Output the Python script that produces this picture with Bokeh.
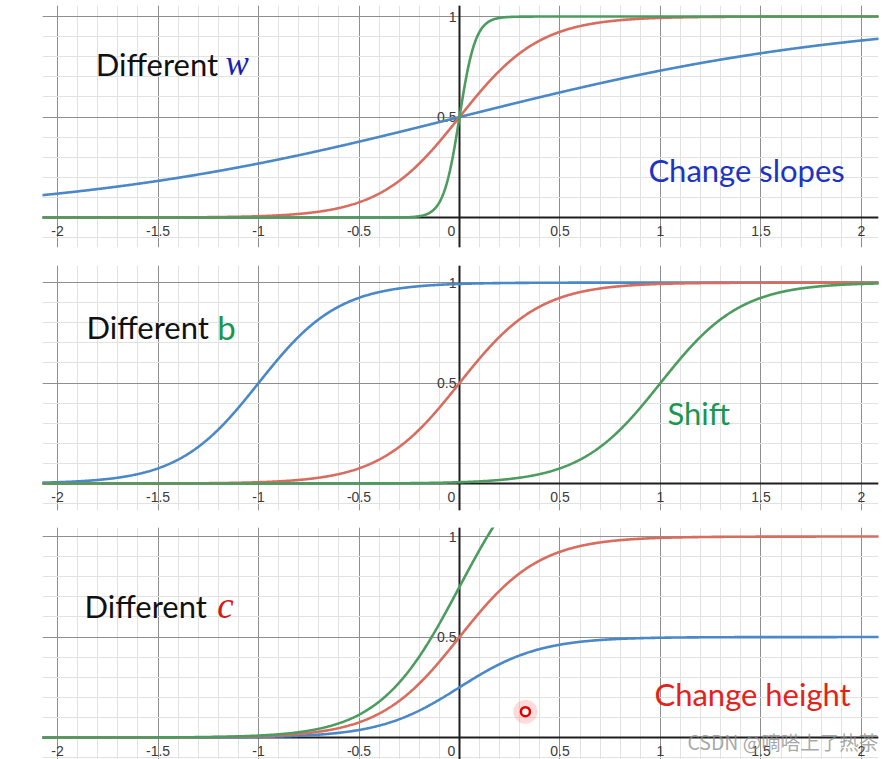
import numpy as np
from bokeh.plotting import figure
from bokeh.layouts import column
from bokeh.models import Range1d, FixedTicker, Span, Grid
from bokeh.core.properties import value
from bokeh.embed import file_html
from bokeh.resources import INLINE

# ---- data ----
# panel 1: sigmoid(w * x) for different slopes w
w_values = [1, 5, 25]
# panel 2: sigmoid(b + 5 x) for different offsets b (centres at -1, 0, 1)
b_values = [5, 0, -5]
b_slope = 5
# panel 3: c * sigmoid(5 x) for different heights c
c_values = [0.5, 1, 1.5]
c_slope = 5

curve_colors = ["#4a88c8", "#d86d5f", "#4c9c60"]  # blue, red, green

x_ticks = [-2, -1.5, -1, -0.5, 0, 0.5, 1, 1.5, 2]
x_tick_labels = ["-2", "-1.5", "-1", "-0.5", "0", "0.5", "1", "1.5", "2"]
y_ticks = [0.5, 1]
y_tick_labels = ["0.5", "1"]

major_grid = [k * 0.5 for k in range(-6, 7)]
minor_grid = [round(k * 0.1, 1) for k in range(-30, 31)]

XMIN, XMAX = -2.075, 2.085
xs = np.linspace(-2.3, 2.3, 1200)


def sigmoid(z):
    return 1.0 / (1.0 + np.exp(-z))


def make_fig(height, ymin, ymax, top, bottom):
    p = figure(width=895, height=height,
               x_range=Range1d(XMIN, XMAX), y_range=Range1d(ymin, ymax),
               output_backend="svg", toolbar_location=None,
               x_axis_location=None, y_axis_location=None,
               min_border_left=42, min_border_right=17,
               min_border_top=top, min_border_bottom=bottom)
    p.outline_line_color = None
    p.background_fill_color = "white"
    p.border_fill_color = "white"
    for g in list(p.grid):
        g.visible = False
    for dim in (0, 1):
        p.add_layout(Grid(dimension=dim,
                          ticker=FixedTicker(ticks=major_grid, minor_ticks=minor_grid),
                          grid_line_color="#8e8e8e", grid_line_width=1,
                          minor_grid_line_color="#e2e2e2", minor_grid_line_width=1),
                     "center")
    p.add_layout(Span(location=0, dimension="width", line_color="#1e1e1e",
                      line_width=2, level="underlay"))
    p.add_layout(Span(location=0, dimension="height", line_color="#1e1e1e",
                      line_width=2, level="underlay"))
    # tick labels
    lx = [t - 0.04 if t == 0 else t for t in x_ticks]
    p.text(x=lx, y=[-0.065] * len(x_ticks), text=x_tick_labels,
           text_font=value("Liberation Sans"), text_font_size="14px",
           text_color="#3a3a3a", text_align="center", text_baseline="middle")
    p.text(x=[-0.015] * len(y_ticks), y=y_ticks, text=y_tick_labels,
           text_font=value("Liberation Sans"), text_font_size="14px",
           text_color="#3a3a3a", text_align="right", text_baseline="middle")
    return p


def label(p, x, y, txt, color, size="31px", font="Lato", style="normal"):
    p.text(x=[x], y=[y], text=[txt], text_font=value(font), text_font_size=size,
           text_color=color, text_font_style=style,
           text_align="left", text_baseline="alphabetic")


# ---- panel 1 ----
p1 = make_fig(256, -0.149, 1.055, 5, 9)
for w, col in zip(w_values, curve_colors):
    p1.line(xs, sigmoid(w * xs), line_color=col, line_width=2.6)
label(p1, -1.81, 0.764, "Different", "#111111")
label(p1, -1.165, 0.764, "w", "#1b1fb0", size="35px", font="Liberation Serif", style="italic")
label(p1, 0.94, 0.237, "Change slopes", "#1d34c2")

# ---- panel 2 ----
p2 = make_fig(262, -0.134, 1.085, 9, 8)
for b, col in zip(b_values, curve_colors):
    p2.line(xs, sigmoid(b + b_slope * xs), line_color=col, line_width=2.6)
label(p2, -1.856, 0.778, "Different", "#111111")
label(p2, -1.205, 0.778, "b", "#1a9650", size="33px")
label(p2, 1.035, 0.352, "Shift", "#1a9650")

# ---- panel 3 ----
p3 = make_fig(241, -0.109, 1.045, 9, 0)
for c, col in zip(c_values, curve_colors):
    p3.line(xs, c * sigmoid(c_slope * xs), line_color=col, line_width=2.6)
label(p3, -1.866, 0.655, "Different", "#111111")
label(p3, -1.205, 0.655, "c", "#d51a14", size="37px", font="Liberation Serif", style="italic")
label(p3, 0.97, 0.218, "Change height", "#e3231b")
# cursor mark of the recording
p3.scatter([0.328], [0.129], size=24, fill_color="#ff7070", fill_alpha=0.25, line_color=None)
p3.scatter([0.328], [0.129], size=9, fill_color="white", line_color="#e00000", line_width=2.5)
# watermark
p3.text(x=[1.134], y=[-0.02], text=["CSDN @嘀嗒上了热茶"],
        text_font=value("Noto Sans CJK SC"), text_font_size="19.5px",
        text_color="#8a8a8a", text_alpha=0.75, text_align="left", text_baseline="alphabetic")

layout = column(p1, p2, p3, spacing=0)
open("out.html", "w").write(file_html(layout, INLINE))
